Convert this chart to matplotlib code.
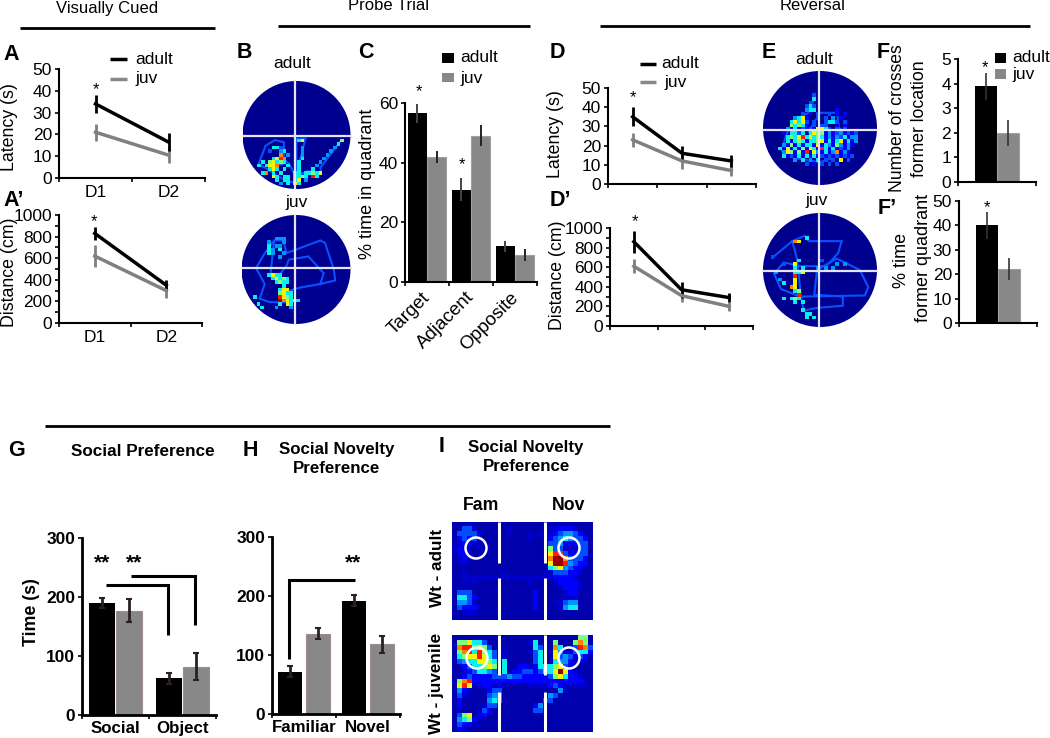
import numpy as np
import matplotlib
matplotlib.use("Agg")
import matplotlib.pyplot as plt
from matplotlib.patches import Circle, Rectangle
from matplotlib.transforms import ScaledTranslation

plt.rcParams["font.family"] = ["Liberation Sans", "DejaVu Sans"]
plt.rcParams["font.size"] = 12.5

W, H = 1050, 738
BLACK = "#000000"
GRAY = "#888888"

# line panels
days_a = ["D1", "D2"]
lat_a_adult = [34, 16.5]
lat_a_juv = [21, 10.5]
lat_a_adult_err = [4, 4]
lat_a_juv_err = [4, 3.5]
dist_a_adult = [830, 350]
dist_a_juv = [620, 300]
dist_a_adult_err = [60, 50]
dist_a_juv_err = [100, 70]

lat_d_adult = [35, 16, 12]
lat_d_juv = [23, 12, 7]
lat_d_adult_err = [5, 4, 3]
lat_d_juv_err = [3.5, 4, 3]
dist_d_adult = [860, 370, 290]
dist_d_juv = [610, 310, 200]
dist_d_adult_err = [110, 80, 50]
dist_d_juv_err = [70, 70, 50]

# bar panels
quadrants = ["Target", "Adjacent", "Opposite"]
time_adult = [56.5, 31, 12]
time_juv = [42, 49, 9]
time_adult_err = [3.3, 4, 1.8]
time_juv_err = [2, 3.5, 2]

crosses = [3.9, 2.0]
crosses_err = [0.55, 0.52]
former = [40, 22]
former_err = [5.5, 4.5]

social_labels = ["Social", "Object"]
social_adult = [190, 62]
social_juv = [177, 82]
social_adult_err = [9, 9]
social_juv_err = [20, 23]
novelty_labels = ["Familiar", "Novel"]
novelty_adult = [72, 192]
novelty_juv = [136, 118]
novelty_adult_err = [10, 9]
novelty_juv_err = [9, 14]

# swim paths, (col, row) on a 30x30 grid
path_b_adult = [(27, 17), (21.7, 24), (21.7, 25.5), (15, 25.6), (17.5, 16), (15, 16), (15, 28), (12.4, 28),
                (8.7, 25.6), (4.5, 23), (6.4, 18), (9, 16.4), (11.5, 17), (11.5, 23), (8, 24), (10.5, 21),
                (13, 23), (15, 27), (18, 25), (21.7, 25.5)]
path_b_juv = [(9, 7), (11.5, 7), (12.4, 10.5), (21.7, 7), (23, 7.7), (25.4, 15), (25.8, 18), (21.7, 19), (16, 20),
              (10.5, 21.6), (12.4, 22.5), (14, 24), (11.5, 24), (7.8, 24), (5, 23), (6.4, 19), (4, 14.6), (6.4, 10.5),
              (9, 7), (8, 16), (9.6, 17.4), (12.4, 14), (13, 12.3), (18.4, 11.4), (22.6, 16), (21.7, 19)]
path_e_adult = [(13.5, 7), (12, 11), (8, 13), (6, 17), (5, 21), (9, 23), (15, 24), (21, 22), (24, 18),
                (20, 15), (19.5, 11), (15, 11), (12, 16), (16, 21), (12, 21)]
path_e_juv = [(2.9, 11.4), (7.7, 7.4), (11, 6), (12, 7.4), (20.7, 7.4), (19.8, 10.5), (16.7, 14), (9.8, 14), (5.5, 13),
              (2.9, 16), (4.7, 20), (9.8, 22), (26.8, 21.7), (27.7, 19.5), (25.5, 15), (19.4, 12), (14.2, 15),
              (13.5, 21.5), (21, 22), (21, 24.4), (14, 25), (10.7, 25.7), (10, 22), (9, 12.3), (7.7, 7.4)]

# occupancy, one character per cell: '.' empty, 0-a rising through the colour map
heat_b_adult = (16, [
    "...............57..........6",
    "..........................5",
    "........553.....4........4",
    ".......3..45....4.......4",
    "..........8.4...4......4",
    "........5798....5.....4",
    ".....5.67565...5.....4",
    "....5.5778..5..5....4",
    ".......575.5...5...5",
    ".....58.5.5...55.55657",
    "........75.55.5565.95",
    ".........5.55.57.4",
    "..........4.5.75",
])
heat_b_juv = (6, [
    ".........444",
    ".......4...4",
    ".......5.44",
    ".......54.5",
    ".......54..4",
    "..........4",
    "",
    "",
    "",
    "",
    ".......5755",
    "........57565",
    ".........5655",
    "...........5",
    "..........577",
    "..........6755",
    "...5......9765",
    "..........a87565",
    "....5.....5.75",
    ".....5...4...4",
])
heat_e_adult = (6, [
    ".............3",
    ".............5",
    "............3",
    "...........353",
    "...........455.....2",
    "..........3.2.3..3.2.2",
    "........4572..3.3.4.2",
    ".......57573.3..3553.3",
    ".......65652.3.33..2.2",
    "......425232327753.3.3",
    ".....2.5535.5766242342323",
    "......5657957565242435244",
    "......5256525567252572524",
    ".....4262525527254264242",
    "....5272526275295252324",
    ".....476262927425248242",
    ".....5232525252323232323",
    "........4.5.4.5.3.3.7.3",
    "...........3.2.3.3.3",
])
heat_e_juv = (6, [
    "...........5",
    "........87",
    "",
    "",
    "",
    "..3",
    ".........5.....3",
    ".....3..7..........4.4",
    "........5.5...4.4.4",
    "...4....557",
    "........9",
    "....4...7",
    ".....5..7",
    ".......87",
    "........56",
    ".........9",
    ".....5.565",
    "........5.5",
    "",
    "..........5",
    "...........55",
    "...........5.5",
])

# social arena heat maps, 28 columns
heat_i_adult = [
    "0001000000000000000000000000",
    "0033100000010000000112221000",
    "0333310000010001010123443200",
    "0232310000000001000234543320",
    "0122110000000000000334222330",
    "1211010000000000000633111330",
    "0221000000000000000799322330",
    "01200000000000000008aa833320",
    "01100000000000000007aa943220",
    "0000000000000000000567432200",
    "0010000000100000001133322100",
    "0011111111111111111122221000",
    "0010100000000001000012222100",
    "0000000000000000000001222100",
    "0333000000000000200000122000",
    "0553200000000000200000111000",
    "0443100000000000200011344000",
    "0322210000000000200001455000",
    "0011100000000000000000000000",
    "0000000000000000000000000000",
]
heat_i_juv = [
    "0000000000000000000000000660",
    "0667553000000001500060006860",
    "0899676300100000530085003983",
    "0689596530100001350074113552",
    "0567797530100000350073431320",
    "0345577650500000350054421110",
    "0023556760500221255567320000",
    "001235543050223323557a721000",
    "0023222233343322222367522100",
    "0689222222222222222222222210",
    "0797112211100001111232111110",
    "0421000233000000000004100000",
    "0310000344000000000430000000",
    "0200000454000000003300000000",
    "0200001332000000240000000000",
    "0100013200000000330000000000",
    "0367022000000000000000000000",
    "0456210000000000000000000000",
    "0322100000000000000000000000",
    "0210000000000000000000000000",
]
LEVELS = [0.04, 0.07, 0.11, 0.2, 0.27, 0.36, 0.5, 0.65, 0.77, 0.88, 0.98]

fig = plt.figure(figsize=(W / 100, H / 100), dpi=100, facecolor="white")
jet = plt.get_cmap("jet")


def axpx(l, t, r, b, **kw):
    return fig.add_axes([l / W, 1 - b / H, (r - l) / W, (b - t) / H], **kw)


def grid_rgba(rows, size=None, first=0):
    ncol = size or max(len(r) for r in rows)
    nrow = size or len(rows)
    img = np.zeros((nrow, ncol, 4))
    for i, row in enumerate(rows):
        for j, ch in enumerate(row):
            if ch != ".":
                img[i + first, j] = jet(LEVELS[int(ch, 16)])
    return img


def style_axis(ax, ymax, major, minor=None, bold=False, lw=1.5):
    ax.set_ylim(0, ymax)
    ax.spines["top"].set_visible(False)
    ax.spines["right"].set_visible(False)
    ax.spines["left"].set_linewidth(lw)
    ax.spines["bottom"].set_linewidth(lw)
    ax.set_yticks(np.arange(0, ymax + 1, major))
    if minor:
        ax.set_yticks(np.arange(0, ymax + 1, minor), minor=True)
    ax.tick_params(axis="y", which="both", length=3, width=1.2, pad=2, labelsize=12.5)
    ax.tick_params(axis="x", which="major", length=3, width=1.2)
    ax.tick_params(axis="x", which="minor", length=0, pad=5, labelsize=12.5)
    ax.patch.set_alpha(0)
    if bold:
        for t in ax.get_yticklabels():
            t.set_fontweight("bold")


def line_panel(box, adult, juv, adult_err, juv_err, ymax, major, minor=None, labels=None):
    ax = axpx(*box)
    n = len(adult)
    x = np.arange(n) + 0.5
    ax.errorbar(x, juv, yerr=juv_err, color="#808080", lw=2.5, elinewidth=2)
    ax.errorbar(x, adult, yerr=adult_err, color=BLACK, lw=2.5, elinewidth=2)
    ax.set_xlim(0, n)
    ax.set_xticks(np.arange(n + 1))
    ax.set_xticklabels([])
    if labels:
        ax.set_xticks(x, labels, minor=True)
    style_axis(ax, ymax, major, minor)
    return ax


def maze(cx, cy, r, path, heat, cross_x, cross_y):
    ax = axpx(cx - r, cy - r, cx + r, cy + r)
    ax.set_xlim(0, 30)
    ax.set_ylim(30, 0)
    ax.axis("off")
    disc = Circle((15, 15), 15, fc="#00008f", ec="none", zorder=1)
    ax.add_patch(disc)
    px, py = zip(*path)
    track, = ax.plot(px, py, color="#0a50ff", lw=1.5, solid_joinstyle="miter", zorder=2)
    track.set_clip_path(disc)
    first, rows = heat
    im = ax.imshow(grid_rgba(rows, 30, first), extent=(0, 30, 30, 0), interpolation="nearest", aspect="auto", zorder=3)
    im.set_clip_path(disc)
    ax.set_xlim(0, 30)
    ax.set_ylim(30, 0)
    overlay.plot([cross_x, cross_x], [cy - r, cy + r], color="#e4e4f4", lw=1.6, zorder=5)
    overlay.plot([cx - r, cx + r], [cross_y, cross_y], color="#e4e4f4", lw=1.6, zorder=5)


overlay = fig.add_axes([0, 0, 1, 1], zorder=10)
overlay.set_xlim(0, W)
overlay.set_ylim(H, 0)
overlay.axis("off")


def txt(x, y, s, size=12.5, weight="normal", ha="center", va="center", **kw):
    overlay.text(x, y, s, fontsize=size, fontweight=weight, ha=ha, va=va, **kw)


def seg(xs, ys, lw=2.0, color=BLACK, **kw):
    overlay.plot(xs, ys, color=color, lw=lw, solid_capstyle="butt", solid_joinstyle="miter", **kw)


# headers
txt(107, 8, "Visually Cued", size=12)
txt(388, 6, "Probe Trial", size=12)
txt(813, 6, "Reversal", size=12)
seg([20, 215], [28, 28])
seg([278, 530], [26, 26])
seg([600, 1030], [26, 26])
seg([45, 610], [426, 426])

# panel letters
for px, py, s in [(3, 54, "A"), (3, 201, "A’"), (237, 53, "B"), (358, 53, "C"), (550, 53, "D"), (550, 201, "D’"),
                  (762, 53, "E"), (877, 53, "F"), (878, 209, "F’"), (8, 450, "G"), (243, 450, "H"), (439, 447, "I")]:
    txt(px, py, s, size=15.5, weight="bold", ha="left")

# A, A'
line_panel((59, 69, 205, 178), lat_a_adult, lat_a_juv, lat_a_adult_err, lat_a_juv_err, 50, 10, labels=days_a)
line_panel((59, 215, 202, 323), dist_a_adult, dist_a_juv, dist_a_adult_err, dist_a_juv_err, 1000, 200, 100, labels=days_a)
txt(10, 127, "Latency (s)", size=12.8, rotation=90)
txt(10, 272, "Distance (cm)", size=12.8, rotation=90)

# D, D'
line_panel((608, 88, 756, 184), lat_d_adult, lat_d_juv, lat_d_adult_err, lat_d_juv_err, 50, 10)
line_panel((610, 228, 753, 326), dist_d_adult, dist_d_juv, dist_d_adult_err, dist_d_juv_err, 1000, 200, 100)
txt(555, 134, "Latency (s)", size=12.8, rotation=90)
txt(557, 275, "Distance (cm)", size=12.8, rotation=90)

# line legends
for x0, x1, xt, y0, y1, xt2 in [(110, 127, 135, 59, 79, 135), (640, 656, 661, 64, 82, 664)]:
    seg([x0, x1], [y0, y0], lw=2.5)
    seg([x0, x1], [y1, y1], lw=2.5, color=GRAY)
    txt(xt, y0, "adult", ha="left")
    txt(xt2, y1, "juv", ha="left")

# C
ax_c = axpx(405, 103, 537, 282)
xc = np.arange(3) + 0.5
ax_c.bar(xc - 0.22, time_adult, 0.43, color=BLACK)
ax_c.bar(xc + 0.22, time_juv, 0.43, color=GRAY, edgecolor="#a0a0a0", lw=0.8)
ax_c.errorbar(xc - 0.22, time_adult, yerr=time_adult_err, fmt="none", ecolor="#444444", elinewidth=1.4)
ax_c.errorbar(xc + 0.22, time_juv, yerr=time_juv_err, fmt="none", ecolor="#222222", elinewidth=1.4)
ax_c.set_xlim(0, 3)
ax_c.set_xticks(np.arange(4))
ax_c.set_xticklabels([])
ax_c.set_xticks(xc, quadrants, minor=True, rotation=45, ha="right", rotation_mode="anchor")
style_axis(ax_c, 60, 20)
ax_c.tick_params(axis="x", which="minor", labelsize=13.5)
for t in ax_c.get_xticklabels(minor=True):
    t.set_transform(t.get_transform() + ScaledTranslation(-4 / 72, 0, fig.dpi_scale_trans))
txt(368, 184, "% time in quadrant", size=13, rotation=90)
overlay.add_patch(Rectangle((442, 53), 12, 10, fc=BLACK, ec="none"))
overlay.add_patch(Rectangle((442, 73), 12, 9, fc=GRAY, ec="none"))
txt(460, 58, "adult", ha="left")
txt(460, 78, "juv", ha="left")

# F, F'
for box, vals, errs, ymax, major in [((958, 59, 1036, 182), crosses, crosses_err, 5, 1),
                                     ((959, 201, 1037, 323), former, former_err, 50, 10)]:
    ax = axpx(*box)
    ax.bar([0.36], vals[0], 0.28, color=BLACK)
    ax.bar([0.64], vals[1], 0.28, color=GRAY, edgecolor="#a0a0a0", lw=0.8)
    ax.errorbar([0.36, 0.64], vals, yerr=errs, fmt="none", ecolor="#333333", elinewidth=1.2)
    ax.set_xlim(0, 1)
    ax.set_xticks([0, 1])
    ax.set_xticklabels([])
    style_axis(ax, ymax, major)
txt(898, 118, "Number of crosses", size=12.7, rotation=90)
txt(920, 119, "former location", size=12.7, rotation=90)
txt(901, 260, "% time", size=13, rotation=90)
txt(923, 258, "former quadrant", size=13, rotation=90)
overlay.add_patch(Rectangle((995, 53), 11, 10, fc=BLACK, ec="none"))
overlay.add_patch(Rectangle((995, 69), 11, 10, fc=GRAY, ec="none"))
txt(1012, 58, "adult", ha="left")
txt(1012, 74, "juv", ha="left")

# mazes
txt(292, 64, "adult")
txt(297, 203, "juv")
txt(814, 59, "adult")
txt(817, 201, "juv")
maze(296.5, 135, 54, path_b_adult, heat_b_adult, 295, 135.5)
maze(296, 269.5, 54.5, path_b_juv, heat_b_juv, 295, 268)
maze(820, 128, 57, path_e_adult, heat_e_adult, 819, 130)
maze(820, 270, 57, path_e_juv, heat_e_juv, 819, 271)

# stars
for px, py in [(96, 90), (94, 222), (419, 92), (462, 165), (633, 98), (635, 222), (985, 68), (987, 208)]:
    txt(px, py, "*", size=12)
for px in [102, 134, 353]:
    txt(px, 563, "**", size=15, weight="bold")

# G, H
for box, labels, adult, juv, adult_err, juv_err, off, width in [
    ((82, 538, 216, 715), social_labels, social_adult, social_juv, social_adult_err, social_juv_err, 0.2, 0.39),
    ((272, 537, 400, 714), novelty_labels, novelty_adult, novelty_juv, novelty_adult_err, novelty_juv_err, 0.22, 0.38),
]:
    ax = axpx(*box)
    x = np.arange(2) + 0.5
    ax.bar(x - off, adult, width, color=BLACK)
    ax.bar(x + off, juv, width, color=GRAY, edgecolor="#a08c8c", lw=0.8)
    ax.errorbar(x - off, adult, yerr=adult_err, fmt="none", ecolor="#2a2020", elinewidth=2, capsize=2, capthick=1.5)
    ax.errorbar(x + off, juv, yerr=juv_err, fmt="none", ecolor="#2a2020", elinewidth=2, capsize=2, capthick=1.5)
    ax.set_xlim(0, 2)
    ax.set_xticks([0, 1, 2])
    ax.set_xticklabels([])
    ax.set_xticks(x, labels, minor=True, fontweight="bold")
    style_axis(ax, 300, 100, bold=True, lw=2)
    ax.tick_params(axis="x", which="minor", pad=4, labelsize=12.2)
txt(32, 612, "Time (s)", size=12.8, weight="bold", rotation=90)
txt(143, 452, "Social Preference", size=12.3, weight="bold")
txt(337, 459, "Social Novelty\nPreference", size=12.2, weight="bold", linespacing=1.35)
txt(526, 457, "Social Novelty\nPreference", size=12.2, weight="bold", linespacing=1.35)
seg([106, 168, 168], [585, 585, 635], lw=2.2)
seg([131, 195, 195], [576, 576, 625], lw=2.2)
seg([289, 289, 355], [659, 580, 580], lw=2.2)

# I
for top, bottom, rows, gap, rings in [(522, 620, heat_i_adult, (563, 578), [(476, 548), (569, 548)]),
                                      (635, 732, heat_i_juv, (675, 692), [(477, 658), (569, 658)])]:
    ax = axpx(452, top, 593, bottom)
    ax.imshow(grid_rgba(rows), interpolation="nearest", aspect="auto")
    ax.axis("off")
    for bx in [499, 545]:
        seg([bx, bx], [top, gap[0]], lw=2.2, color="white")
        seg([bx, bx], [gap[1], bottom], lw=2.2, color="white")
    for rx, ry in rings:
        overlay.add_patch(Circle((rx, ry), 10.5, fc="none", ec="white", lw=1.8))
txt(481, 506, "Fam", size=12.7, weight="bold")
txt(569, 505, "Nov", size=12.7, weight="bold")
txt(437, 568, "Wt - adult", size=12.3, weight="bold", rotation=90)
txt(437, 683, "Wt - juvenile", size=12.3, weight="bold", rotation=90)

fig.savefig("out.png", dpi=100)
